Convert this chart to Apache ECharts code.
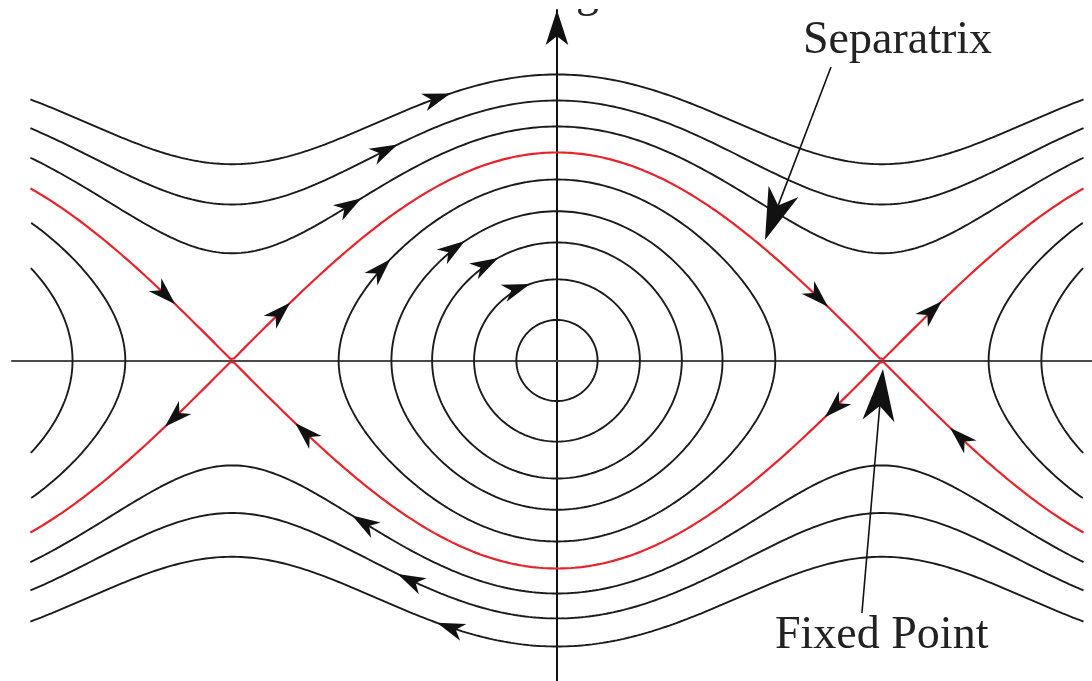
<!DOCTYPE html>
<html>
<head>
<meta charset="utf-8">
<script src="https://cdn.jsdelivr.net/npm/echarts@6/dist/echarts.min.js"></script>
<style>
  html, body { margin: 0; padding: 0; background: #ffffff; }
  #chart { width: 1092px; height: 681px; }
</style>
</head>
<body>
<div id="chart"></div>
<script>
// Phase portrait of the simple pendulum: angle theta across, angular velocity omega up.
// Every trajectory is named by the angular velocity it has where it crosses its centre line.
const closedOrbitPeaks = [0.39, 0.78, 1.135, 1.435, 1.74];
const upperRotationPeaks = [2.25, 2.50, 2.75];
const lowerRotationPeaks = [-2.24, -2.48, -2.75];
const separatrixPeak = 2.0;
const sideOrbitCentres = [-2 * Math.PI, 2 * Math.PI];
const sideOrbitPeaks = [1.435, 1.74];
const thetaLimits = [-5.09, 5.09];

// Direction arrows: [peak omega of the trajectory (sign picks the branch), theta at the tip]
const flowArrows = [
  [2.75, -1.03], [2.50, -1.54], [2.25, -1.89],
  [1.74, -1.61], [1.435, -0.89], [1.135, -0.57], [0.78, -0.26],
  [2, -3.69], [2, -2.58], [2, 2.62], [2, 3.72],
  [-2, -3.79], [-2, -2.53], [-2, 2.59], [-2, 3.80],
  [-2.24, -1.98], [-2.48, -1.54], [-2.75, -1.16]
];

// Pointer arrows for the two labels: tail and tip in (theta, omega)
const pointerTails = [[2.649, 2.822], [2.948, -2.428]];
const pointerTips = [[2.011, 1.159], [3.151, -0.082]];
const labelTexts = ['Separatrix', 'Fixed Point'];

const BLACK = '#1b1b1b';
const RED = '#e8222b';

// omega on the energy level that passes through (0, peak)
function omegaOn(peak, theta) {
  const s = peak * peak - 2 + 2 * Math.cos(theta);
  return Math.sign(peak) * Math.sqrt(Math.max(0, s));
}

// closed libration loop around centre c: theta = c + 2 asin(k sin u), omega = 2k cos u
function closedLoop(c, peak, limits) {
  const k = peak / 2, pts = [];
  for (let i = 0; i <= 480; i++) {
    const u = (i / 480) * 2 * Math.PI;
    const th = c + 2 * Math.asin(k * Math.sin(u));
    if (!limits || (th >= limits[0] && th <= limits[1])) pts.push([th, 2 * k * Math.cos(u)]);
  }
  return pts;
}

function openCurve(fn) {
  const pts = [], n = 600;
  for (let i = 0; i <= n; i++) {
    const th = thetaLimits[0] + (thetaLimits[1] - thetaLimits[0]) * i / n;
    pts.push([th, fn(th)]);
  }
  return pts;
}

function lineSeries(data, color, width) {
  return {
    type: 'line', data: data, showSymbol: false, symbol: 'none', smooth: false,
    silent: true, animation: false, z: 3,
    lineStyle: { color: color, width: width }
  };
}

const series = [];
closedOrbitPeaks.forEach(p => series.push(lineSeries(closedLoop(0, p), BLACK, 1.9)));
sideOrbitCentres.forEach(c => sideOrbitPeaks.forEach(p =>
  series.push(lineSeries(closedLoop(c, p, thetaLimits), BLACK, 1.9))));
upperRotationPeaks.concat(lowerRotationPeaks).forEach(p =>
  series.push(lineSeries(openCurve(th => omegaOn(p, th)), BLACK, 1.9)));
[separatrixPeak, -separatrixPeak].forEach(p =>
  series.push(lineSeries(openCurve(th => omegaOn(p, th)), RED, 2.2)));

function arrowHead(tip, dir, len, half, notch, color) {
  const dx = dir[0], dy = dir[1], nx = -dy, ny = dx;
  const bx = tip[0] - dx * len, by = tip[1] - dy * len;
  return {
    type: 'polygon',
    shape: { points: [
      [tip[0], tip[1]],
      [bx + nx * half, by + ny * half],
      [tip[0] - dx * (len - notch), tip[1] - dy * (len - notch)],
      [bx - nx * half, by - ny * half]
    ] },
    style: { fill: color, stroke: null }
  };
}

// arrows along the flow: theta' = omega, omega' = -sin(theta)
const flowData = flowArrows.map(a => {
  const th = a[1], om = omegaOn(a[0], th);
  return [th, om, om, -Math.sin(th)];
});
series.push({
  type: 'custom', data: flowData, silent: true, animation: false, z: 5,
  renderItem: function (params, api) {
    const p = api.coord([api.value(0), api.value(1)]);
    const e = 1e-3;
    const q = api.coord([api.value(0) + api.value(2) * e, api.value(1) + api.value(3) * e]);
    let dx = q[0] - p[0], dy = q[1] - p[1];
    const m = Math.hypot(dx, dy) || 1;
    return arrowHead(p, [dx / m, dy / m], 28, 9, 8, '#111111');
  }
});

// label pointers
series.push({
  type: 'custom',
  data: pointerTails.map((t, i) => [t[0], t[1], pointerTips[i][0], pointerTips[i][1]]),
  silent: true, animation: false, z: 6,
  renderItem: function (params, api) {
    const a = api.coord([api.value(0), api.value(1)]);
    const b = api.coord([api.value(2), api.value(3)]);
    let dx = b[0] - a[0], dy = b[1] - a[1];
    const m = Math.hypot(dx, dy); dx /= m; dy /= m;
    const len = 52, notch = 15;
    return {
      type: 'group',
      children: [
        { type: 'line',
          shape: { x1: a[0], y1: a[1], x2: b[0] - dx * (len - notch), y2: b[1] - dy * (len - notch) },
          style: { stroke: '#111111', lineWidth: 1.6 } },
        arrowHead(b, [dx, dy], len, 16, notch, '#111111')
      ]
    };
  }
});

const chart = echarts.init(document.getElementById('chart'), null, { renderer: 'canvas' });
chart.setOption({
  backgroundColor: '#ffffff',
  animation: false,
  grid: { left: 12, right: 0, top: 10, bottom: 0, containLabel: false },
  xAxis: {
    type: 'value', min: -5.268, max: 5.172,
    axisLine: { show: true, onZero: true, lineStyle: { color: '#4a4a4a', width: 2 } },
    axisTick: { show: false }, axisLabel: { show: false }, splitLine: { show: false }
  },
  yAxis: {
    type: 'value', min: -3.0817, max: 3.370,
    axisLine: {
      show: true, onZero: true, symbol: ['none', 'arrow'], symbolSize: [17, 35],
      lineStyle: { color: '#111111', width: 2 }
    },
    axisTick: { show: false }, axisLabel: { show: false }, splitLine: { show: false }
  },
  graphic: [
    { type: 'text', left: 576, top: -29, silent: true, z: 1,
      style: { text: 'g', font: '46px "Liberation Serif", serif', fill: '#222222' } },
    // blank strip along the top edge, above the axis arrow tip
    { type: 'rect', left: 566, top: 0, silent: true, z: 2,
      shape: { width: 40, height: 9 }, style: { fill: '#ffffff' } },
    { type: 'text', left: 803, top: 18, silent: true,
      style: { text: labelTexts[0], font: '46px "Liberation Serif", serif', fill: '#222222' } },
    { type: 'text', left: 775, top: 613, silent: true,
      style: { text: labelTexts[1], font: '46px "Liberation Serif", serif', fill: '#222222' } }
  ],
  series: series
});
</script>
</body>
</html>
